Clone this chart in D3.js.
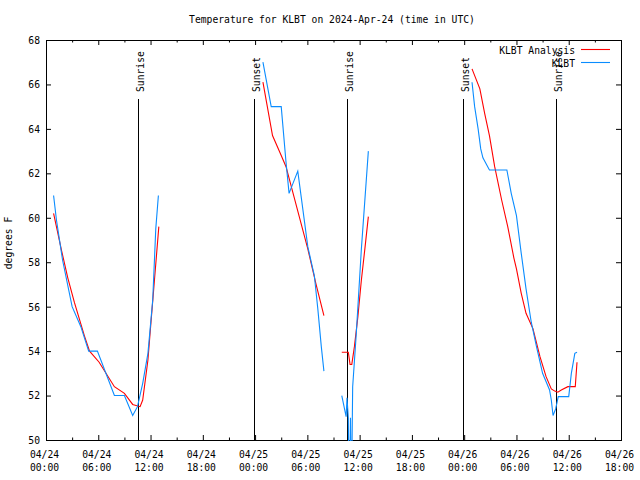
<!DOCTYPE html>
<html><head><meta charset="utf-8">
<script src="https://cdn.jsdelivr.net/npm/d3@7"></script>
<style>
html,body{margin:0;padding:0;background:#fff;}
text{font-family:"DejaVu Sans Mono","Liberation Mono",monospace;font-size:9.7px;fill:#000;}
</style></head>
<body>
<svg id="c" width="640" height="480"></svg>
<script>
// ---- data (hours since 2024-04-24 00:00 UTC; null = gap) ----
const analysisHours = [0.87,1.8,2.5,3.25,4.4,5.0,6.1,7.85,9.0,9.95,10.8,11.1,11.7,12.05,12.45,12.95, null,
  24.9,26.0,27.0,27.55,30.05,31.0,31.9, null,
  33.95,34.7,34.9,35.1,35.4,35.8,36.2,36.6,37.0, null,
  48.9,49.8,50.35,50.9,51.5,52.3,53.0,53.7,54.0,54.55,55.1,55.9,56.7,57.4,58.0,58.4,58.75,59.15,59.9,60.75,60.95];
const analysisTemps = [60.2,58.5,57.3,56.2,54.7,54.0,53.5,52.4,52.1,51.6,51.5,51.8,53.6,55.3,57.2,59.6, null,
  66.1,63.7,62.8,62.3,58.6,57.0,55.6, null,
  53.95,53.95,53.4,53.4,54.2,55.55,57.2,58.6,60.05, null,
  66.7,65.8,64.7,63.7,62.3,60.8,59.6,58.2,57.7,56.6,55.7,55.0,53.75,52.85,52.3,52.2,52.15,52.25,52.4,52.4,53.5];
const obsHours = [0.87,1.2,1.9,3.0,4.0,4.9,5.9,7.85,9.0,9.95,10.5,11.1,11.7,12.25,12.6,12.9, null,
  24.9,25.85,27.0,27.55,27.9,28.9,30.05,30.8,31.2,31.6,31.9, null,
  33.95,34.45,34.55,34.7,34.8,34.95,35.05,35.2,35.6,36.2,37.0, null,
  48.9,49.2,49.6,49.9,50.15,50.9,52.9,53.4,54.0,54.55,55.1,55.7,56.3,57.0,57.8,58.0,58.2,58.5,58.8,60.0,60.3,60.7,60.95];
const obsTemps = [61.0,59.9,58.1,56.0,55.1,54.0,54.0,52.0,52.0,51.1,51.5,52.55,53.9,56.3,59.5,61.0, null,
  67.0,65.0,65.0,62.5,61.1,62.1,58.7,57.4,55.9,54.2,53.1, null,
  52.0,51.05,51.9,51.0,47.0,51.0,47.0,52.4,54.7,58.6,63.0, null,
  66.1,65.0,64.0,63.1,62.7,62.15,62.15,61.1,60.1,58.4,56.8,55.3,54.2,53.0,52.25,51.8,51.1,51.4,51.95,51.95,53.0,53.9,53.95];
const sunHours = [10.52, 23.85, 34.53, 47.85, 58.58];
const sunLabels = ["Sunrise","Sunset","Sunrise","Sunset","Sunrise"];
const xTickHours = [0,6,12,18,24,30,36,42,48,54,60,66];
const xTickDates = ["04/24","04/24","04/24","04/24","04/25","04/25","04/25","04/25","04/26","04/26","04/26","04/26"];
const xTickTimes = ["00:00","06:00","12:00","18:00","00:00","06:00","12:00","18:00","00:00","06:00","12:00","18:00"];
const yTicks = [50,52,54,56,58,60,62,64,66,68];
const seriesNames = ["KLBT Analysis","KLBT"];
const seriesColors = ["#ff0000","#0a8cff"];

const BASE = Date.UTC(2024,3,24);
const T = h => new Date(BASE + h*3600e3);

const svg = d3.select("#c");
const L=46, R=621, TOP=40, B=440;
const x = d3.scaleUtc().domain([T(0),T(66)]).range([L,R]);
const y = d3.scaleLinear().domain([50,68]).range([B,TOP]);

svg.append("defs").append("clipPath").attr("id","clip")
  .append("rect").attr("x",L).attr("y",TOP).attr("width",R-L+1).attr("height",B-TOP+1);

// title
svg.append("text").attr("x",332).attr("y",23).attr("text-anchor","middle")
  .text("Temperature for KLBT on 2024-Apr-24 (time in UTC)");
// y label
svg.append("text").attr("transform","translate(12,243) rotate(-90)").attr("text-anchor","middle").text("degrees F");

// axes ticks
const minorHours = d3.range(3,66,6);
const gB = svg.append("g").attr("transform",`translate(0,${B})`);
gB.call(d3.axisBottom(x).tickValues(xTickHours.map(T)).tickSize(-5).tickFormat(""));
gB.append("g").call(d3.axisBottom(x).tickValues(minorHours.map(T)).tickSize(-2.5).tickFormat(""));
const gT = svg.append("g").attr("transform",`translate(0,${TOP})`);
gT.call(d3.axisTop(x).tickValues(xTickHours.map(T)).tickSize(-5).tickFormat(""));
gT.append("g").call(d3.axisTop(x).tickValues(minorHours.map(T)).tickSize(-2.5).tickFormat(""));
const gL = svg.append("g").attr("transform",`translate(${L},0)`);
gL.call(d3.axisLeft(y).tickValues(yTicks).tickSize(-5).tickFormat(""));
const gR = svg.append("g").attr("transform",`translate(${R},0)`);
gR.call(d3.axisRight(y).tickValues(yTicks).tickSize(-5).tickFormat(""));
svg.selectAll(".domain").remove();
svg.selectAll(".tick line").attr("stroke","#000");

// tick labels
xTickHours.forEach((h,i)=>{
  const t = svg.append("text").attr("text-anchor","middle");
  t.append("tspan").attr("x",x(T(h))-1.5).attr("y",458).text(xTickDates[i]);
  t.append("tspan").attr("x",x(T(h))-1.5).attr("y",471).text(xTickTimes[i]);
});
yTicks.forEach(v=>{
  svg.append("text").attr("x",40).attr("y",y(v)+0.5).attr("dy","0.35em").attr("text-anchor","end").text(v);
});

// border
svg.append("rect").attr("x",L+0.5).attr("y",TOP+0.5).attr("width",R-L).attr("height",B-TOP)
  .attr("fill","none").attr("stroke","#000");

// sunrise / sunset lines
sunHours.forEach((h,i)=>{
  const xp = Math.round(x(T(h)))+0.5;
  svg.append("line").attr("x1",xp).attr("x2",xp).attr("y1",99).attr("y2",B)
    .attr("stroke","#000").attr("stroke-width",1);
  svg.append("text").attr("transform",`translate(${xp+5},92) rotate(-90)`).text(sunLabels[i]);
});

// series
const line = d3.line().defined(d=>d[1]!==null).x(d=>x(T(d[0]))).y(d=>y(d[1]));
const data = [
  analysisHours.map((h,i)=>[h,analysisTemps[i]]),
  obsHours.map((h,i)=>[h,obsTemps[i]])
];
const gD = svg.append("g").attr("clip-path","url(#clip)");
data.forEach((d,i)=>{
  gD.append("path").attr("d",line(d)).attr("fill","none").attr("stroke",seriesColors[i]).attr("stroke-width",1.1);
});

// legend
seriesNames.forEach((n,i)=>{
  const yy = 49.5 + i*13;
  svg.append("text").attr("x",575).attr("y",yy+4).attr("text-anchor","end").text(n);
  svg.append("line").attr("x1",581).attr("x2",610).attr("y1",yy).attr("y2",yy)
    .attr("stroke",seriesColors[i]).attr("stroke-width",1.1);
});
</script>
</body></html>
